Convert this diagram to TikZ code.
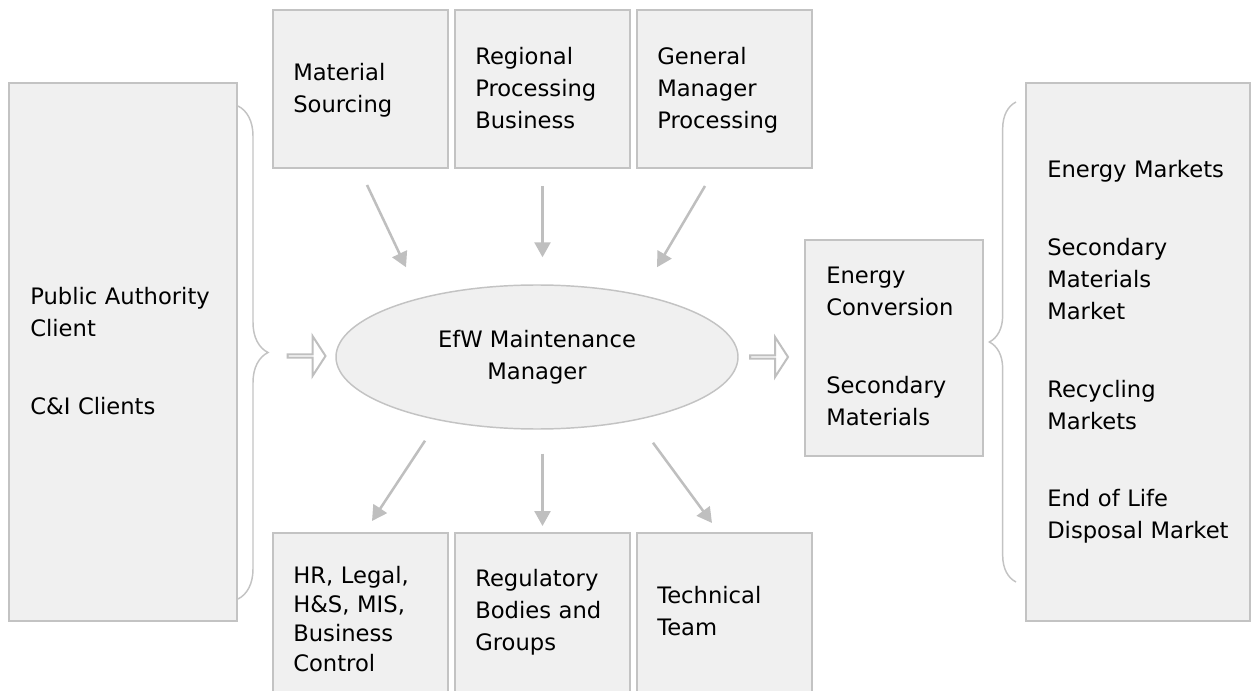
\documentclass[tikz,border=0pt]{standalone}
\usepackage{fontspec}
\setmainfont{DejaVu Sans}
\usetikzlibrary{arrows.meta}
\usetikzlibrary{shapes.geometric,shapes.arrows}
\usetikzlibrary{decorations.pathreplacing}
\definecolor{boxfill}{HTML}{F0F0F0}
\definecolor{boxline}{HTML}{C3C3C3}
\definecolor{arrowgray}{HTML}{BFBFBF}
\tikzset{
  box/.style={rectangle, draw=boxline, fill=boxfill, line width=1.5pt, inner sep=0pt},
  txt/.style={anchor=base west, inner sep=0pt, align=left, text width=150pt,
    font=\fontsize{17}{24}\selectfont},
  flow/.style={draw=arrowgray, line width=1.9pt, -{Triangle[length=11.25pt,width=12pt]}},
  hollow/.style={single arrow, draw=arrowgray, fill=white, line width=1.5pt, inner sep=0pt,
    minimum height=28.5pt, minimum width=30pt, single arrow head extend=8.6pt,
    single arrow tip angle=114},
  brc/.style={draw=boxline, line width=1.1pt, decorate, decoration={brace, amplitude=#1}},
}
\begin{document}
\begin{tikzpicture}[x=0.75pt, y=-0.75pt]
  \path[use as bounding box, clip] (0,0) rectangle (1252,691);
  % side boxes
  \node[box, minimum width=171pt, minimum height=403.5pt] (pac) at (123,352) {};
  \node[box, minimum width=168pt, minimum height=403.5pt] (mk) at (1138,352) {};
  \node[box, minimum width=133.5pt, minimum height=162pt] (esm) at (894,348) {};
  % top row
  \node[box, minimum width=131.25pt, minimum height=118.5pt] (ms) at (360.5,89) {};
  \node[box, minimum width=131.25pt, minimum height=118.5pt] (rpb) at (542.5,89) {};
  \node[box, minimum width=131.25pt, minimum height=118.5pt] (gmp) at (724.5,89) {};
  % bottom row
  \node[box, minimum width=131.25pt, minimum height=125.25pt] (hr) at (360.5,616.5) {};
  \node[box, minimum width=131.25pt, minimum height=125.25pt] (rbg) at (542.5,616.5) {};
  \node[box, minimum width=131.25pt, minimum height=125.25pt] (tt) at (724.5,616.5) {};
  % centre
  \node[ellipse, draw=boxline, fill=boxfill, line width=1.1pt, inner sep=0pt,
    minimum width=301.5pt, minimum height=108pt, align=center,
    font=\fontsize{17}{24}\selectfont] (ell) at (537,357) {EfW Maintenance\\Manager};
  % arrows in and out
  \draw[flow] ([shift={(6.5,16)}]ms.south) -- ([shift={(-131,-17)}]ell.north);
  \draw[flow] ([shift={(0,17)}]rpb.south) -- ([shift={(5.5,-27)}]ell.north);
  \draw[flow] ([shift={(-19.5,17)}]gmp.south) -- ([shift={(120,-17)}]ell.north);
  \draw[flow] ([shift={(-112,11)}]ell.south) -- ([shift={(11.5,-11)}]hr.north);
  \draw[flow] ([shift={(5.5,24)}]ell.south) -- ([shift={(0,-6)}]rbg.north);
  \draw[flow] ([shift={(116,13)}]ell.south) -- ([shift={(-12.5,-9)}]tt.north);
  \node[hollow] (inA) at (306,356) {};
  \node[hollow] (outA) at (768.5,357) {};
  % braces
  \draw[brc=22.5pt] ([shift={(0,24)}]pac.north east) -- ([shift={(0,-23)}]pac.south east);
  \draw[brc=20pt] ([shift={(-9,-40)}]mk.south west) -- ([shift={(-9,20)}]mk.north west);
  % texts
  \node[txt] (pacT) at (30,305) {Public Authority\\Client\\[34.5pt]C\&I Clients};
  \node[txt] (msT) at (293,81) {Material\\Sourcing};
  \node[txt] (rpbT) at (475,65) {Regional\\Processing\\Business};
  \node[txt] (gmpT) at (657,65) {General\\Manager\\Processing};
  \node[txt, font=\fontsize{17}{22}\selectfont] (hrT) at (293,583) {HR, Legal,\\H\&S, MIS,\\Business\\Control};
  \node[txt] (rbgT) at (475,586) {Regulatory\\Bodies and\\Groups};
  \node[txt] (ttT) at (657,603) {Technical\\Team};
  \node[txt] (esmT) at (826,284) {Energy\\Conversion\\[34.5pt]Secondary\\Materials};
  \node[txt] (mkT) at (1047,178) {Energy Markets\\[34.5pt]Secondary\\Materials\\Market\\[34.5pt]Recycling\\Markets\\[33.75pt]End of Life\\Disposal Market};
\end{tikzpicture}
\end{document}
